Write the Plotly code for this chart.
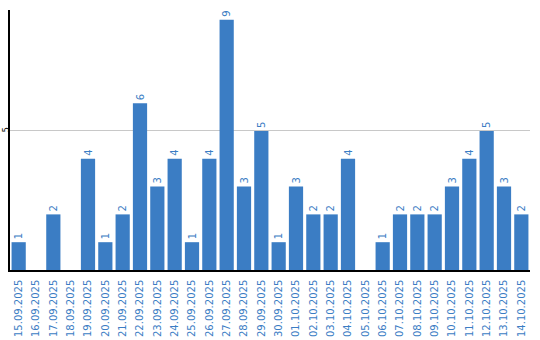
import plotly.graph_objects as go

dates = ["15.09.2025","16.09.2025","17.09.2025","18.09.2025","19.09.2025","20.09.2025",
         "21.09.2025","22.09.2025","23.09.2025","24.09.2025","25.09.2025","26.09.2025",
         "27.09.2025","28.09.2025","29.09.2025","30.09.2025","01.10.2025","02.10.2025",
         "03.10.2025","04.10.2025","05.10.2025","06.10.2025","07.10.2025","08.10.2025",
         "09.10.2025","10.10.2025","11.10.2025","12.10.2025","13.10.2025","14.10.2025"]
counts = [1,0,2,0,4,1,2,6,3,4,1,4,9,3,5,1,3,2,2,4,0,1,2,2,2,3,4,5,3,2]

blue = "#3b7dc4"
labels = [str(v) if v > 0 else "" for v in counts]

fig = go.Figure(go.Bar(
    x=dates, y=counts, marker_color=blue, marker_line_width=0,
    text=labels, textposition="outside", textangle=-90,
    textfont=dict(family="DejaVu Sans", size=10, color=blue),
    cliponaxis=False,
))
fig.update_layout(
    width=540, height=340, margin=dict(l=10, r=10, t=10, b=70),
    plot_bgcolor="white", paper_bgcolor="white", showlegend=False, bargap=0.18,
    font=dict(family="DejaVu Sans"),
)
fig.update_xaxes(tickangle=-90, tickfont=dict(size=10, color=blue), showline=True,
                 linecolor="black", linewidth=1.5, ticks="", showgrid=False,
                 automargin=False, ticklabelstandoff=4)
fig.update_yaxes(range=[0, 9.35], tickvals=[5], ticktext=["5"], tickangle=-90,
                 tickfont=dict(size=8, color="black"), showgrid=True, gridcolor="#c8c8c8",
                 showline=True, linecolor="black", linewidth=1.5, zeroline=False, ticks="",
                 automargin=False, ticklabelstandoff=-4)
fig.write_html("out.html")
